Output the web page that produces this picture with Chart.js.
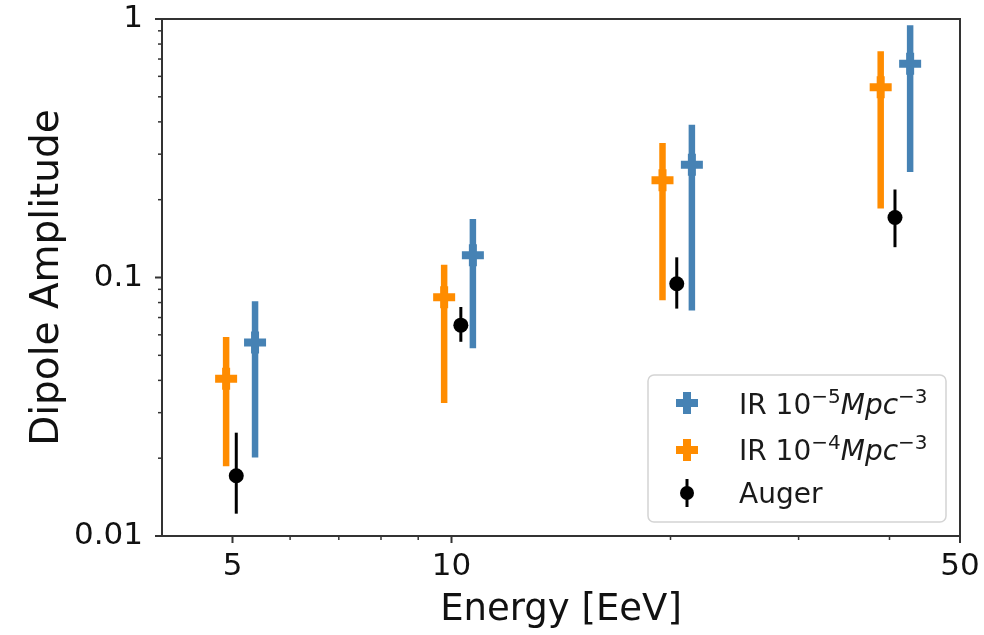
<!DOCTYPE html>
<html>
<head>
<meta charset="utf-8">
<script src="https://cdn.jsdelivr.net/npm/chart.js@4/dist/chart.umd.min.js"></script>
<style>
  html, body { margin: 0; padding: 0; background: #fff; }
  #wrap { width: 984px; height: 635px; position: relative; }
</style>
</head>
<body>
<div id="wrap"><canvas id="chart"></canvas></div>
<script>
// values (log-log axes)
const energyIR5 = [5.37, 10.7, 21.4, 42.7];
const ampIR5 = [0.056, 0.122, 0.273, 0.671];
const lowIR5 = [0.0201, 0.0532, 0.0746, 0.256];
const highIR5 = [0.0809, 0.1685, 0.39, 0.946];

const energyIR4 = [4.9, 9.77, 19.5, 38.9];
const ampIR4 = [0.0406, 0.0839, 0.238, 0.544];
const lowIR4 = [0.0186, 0.0327, 0.0816, 0.185];
const highIR4 = [0.0588, 0.112, 0.331, 0.751];

const energyAuger = [5.06, 10.3, 20.4, 40.7];
const ampAuger = [0.0171, 0.0654, 0.0946, 0.1706];
const lowAuger = [0.0122, 0.0564, 0.0758, 0.131];
const highAuger = [0.0251, 0.0769, 0.1197, 0.219];

const xTicks = [4, 5, 6, 7, 8, 9, 10, 20, 30, 40, 50];
const xLabels = { 5: "5", 10: "10", 50: "50" };
const yTicks = [0.01, 0.02, 0.03, 0.04, 0.05, 0.06, 0.07, 0.08, 0.09,
  0.1, 0.2, 0.3, 0.4, 0.5, 0.6, 0.7, 0.8, 0.9, 1];
const yLabels = { 0.01: "0.01", 0.1: "0.1", 1: "1" };

const BLUE = "#4682b4";
const ORANGE = "#ff8c00";
const FONT = "'DejaVu Sans', sans-serif";
const SPINE = "#333";

function points(xs, ys, lo, hi) {
  return xs.map((x, i) => ({ x, y: ys[i], yMin: lo[i], yMax: hi[i] }));
}

// vertical error bars drawn under the markers
const errorBars = {
  id: "errorBars",
  beforeDatasetsDraw(chart) {
    const { ctx, scales: { x, y } } = chart;
    chart.data.datasets.forEach((ds) => {
      ctx.save();
      ctx.strokeStyle = ds.borderColor;
      ctx.lineWidth = ds.errorWidth;
      ds.data.forEach((p) => {
        const px = x.getPixelForValue(p.x);
        ctx.beginPath();
        ctx.moveTo(px, y.getPixelForValue(p.yMin));
        ctx.lineTo(px, y.getPixelForValue(p.yMax));
        ctx.stroke();
      });
      ctx.restore();
    });
  },
};

// frame + tick marks (major 7px, minor 4px) like matplotlib
const frame = {
  id: "frame",
  afterDraw(chart) {
    const { ctx, chartArea: a, scales: { x, y } } = chart;
    ctx.save();
    ctx.strokeStyle = SPINE;
    ctx.lineCap = "butt";
    x.ticks.forEach((t) => {
      if (t.value <= x.min) return;
      const major = xLabels[t.value] !== undefined;
      const px = x.getPixelForValue(t.value);
      ctx.lineWidth = major ? 2 : 1.5;
      ctx.beginPath();
      ctx.moveTo(px, a.bottom);
      ctx.lineTo(px, a.bottom + (major ? 7 : 4));
      ctx.stroke();
    });
    y.ticks.forEach((t) => {
      const major = yLabels[t.value] !== undefined;
      const py = y.getPixelForValue(t.value);
      ctx.lineWidth = major ? 2 : 1.5;
      ctx.beginPath();
      ctx.moveTo(a.left, py);
      ctx.lineTo(a.left - (major ? 7 : 4), py);
      ctx.stroke();
    });
    ctx.lineWidth = 2;
    ctx.strokeRect(a.left, a.top, a.right - a.left, a.bottom - a.top);
    ctx.restore();
  },
};

function richText(ctx, parts, x, y) {
  parts.forEach((p) => {
    ctx.font = p.font;
    ctx.fillText(p.t, x, y + (p.dy || 0));
    x += ctx.measureText(p.t).width;
  });
}

function irLabel(a, b) {
  return [
    { t: "IR 10", font: `28px ${FONT}` },
    { t: a, font: `20px ${FONT}`, dy: -11 },
    { t: "Mpc", font: `italic 28px ${FONT}` },
    { t: b, font: `20px ${FONT}`, dy: -11 },
  ];
}

const legendBox = {
  id: "legendBox",
  afterDraw(chart) {
    const { ctx } = chart;
    const bx = 648, by = 375, bw = 298, bh = 147;
    ctx.save();
    ctx.beginPath();
    ctx.roundRect(bx, by, bw, bh, 6);
    ctx.fillStyle = "rgba(255,255,255,0.85)";
    ctx.fill();
    ctx.strokeStyle = "#d4d4d4";
    ctx.lineWidth = 1.5;
    ctx.stroke();

    const mx = 687;
    // plus markers
    [[BLUE, 403], [ORANGE, 450]].forEach(([c, cy]) => {
      ctx.strokeStyle = c;
      ctx.lineWidth = 8;
      ctx.beginPath();
      ctx.moveTo(mx - 11, cy); ctx.lineTo(mx + 11, cy);
      ctx.moveTo(mx, cy - 11); ctx.lineTo(mx, cy + 11);
      ctx.stroke();
    });
    // auger marker
    ctx.strokeStyle = "#000";
    ctx.lineWidth = 3;
    ctx.beginPath();
    ctx.moveTo(mx, 479); ctx.lineTo(mx, 507);
    ctx.stroke();
    ctx.fillStyle = "#000";
    ctx.beginPath();
    ctx.arc(mx, 493, 7, 0, Math.PI * 2);
    ctx.fill();

    ctx.fillStyle = "#1a1a1a";
    ctx.textBaseline = "alphabetic";
    ctx.textAlign = "left";
    richText(ctx, irLabel("\u22125", "\u22123"), 739, 414);
    richText(ctx, irLabel("\u22124", "\u22123"), 739, 460);
    richText(ctx, [{ t: "Auger", font: `28px ${FONT}` }], 739, 503);
    ctx.restore();
  },
};

// keep chart area where the reference has it: no extra label padding
function noPad(s) {
  s.paddingTop = 0;
  s.paddingBottom = 0;
  s.paddingLeft = 0;
  s.paddingRight = 0;
}

new Chart(document.getElementById("chart"), {
  type: "scatter",
  data: {
    datasets: [
      {
        label: "IR 10^-5",
        data: points(energyIR5, ampIR5, lowIR5, highIR5),
        borderColor: BLUE,
        backgroundColor: BLUE,
        pointStyle: "cross",
        pointRadius: 11,
        pointBorderWidth: 8,
        errorWidth: 6.5,
      },
      {
        label: "IR 10^-4",
        data: points(energyIR4, ampIR4, lowIR4, highIR4),
        borderColor: ORANGE,
        backgroundColor: ORANGE,
        pointStyle: "cross",
        pointRadius: 11,
        pointBorderWidth: 8,
        errorWidth: 6.5,
      },
      {
        label: "Auger",
        data: points(energyAuger, ampAuger, lowAuger, highAuger),
        borderColor: "#000",
        backgroundColor: "#000",
        pointStyle: "circle",
        pointRadius: 7.5,
        pointBorderWidth: 0,
        errorWidth: 3,
      },
    ],
  },
  options: {
    responsive: true,
    maintainAspectRatio: false,
    animation: false,
    events: [],
    layout: { padding: { top: 18, right: 24, left: 0, bottom: 0 } },
    plugins: { legend: { display: false }, tooltip: { enabled: false } },
    scales: {
      x: {
        type: "logarithmic",
        min: 4,
        max: 50,
        afterBuildTicks: (s) => { s.ticks = xTicks.map((v) => ({ value: v })); },
        afterFit: (s) => { s.height = 99; noPad(s); },
        border: { display: false },
        grid: { drawOnChartArea: false, tickLength: 7, tickColor: "rgba(0,0,0,0)" },
        ticks: {
          autoSkip: false,
          maxRotation: 0,
          padding: 8,
          color: "#111",
          font: { family: FONT, size: 31, lineHeight: 1 },
          callback: (v) => xLabels[v] || "",
        },
        title: {
          display: true,
          text: "Energy [EeV]",
          color: "#111",
          font: { family: FONT, size: 37 },
          padding: { top: 0, bottom: 2 },
        },
      },
      y: {
        type: "logarithmic",
        min: 0.01,
        max: 1,
        afterBuildTicks: (s) => { s.ticks = yTicks.map((v) => ({ value: v })); },
        afterFit: (s) => { s.width = 162; noPad(s); },
        border: { display: false },
        grid: { drawOnChartArea: false, tickLength: 7, tickColor: "rgba(0,0,0,0)" },
        ticks: {
          autoSkip: false,
          padding: 12,
          color: "#111",
          font: { family: FONT, size: 31, lineHeight: 1 },
          callback: (v) => yLabels[v] || "",
        },
        title: {
          display: true,
          text: "Dipole Amplitude",
          color: "#111",
          font: { family: FONT, size: 39 },
          padding: { top: 24, bottom: 0 },
        },
      },
    },
  },
  plugins: [errorBars, frame, legendBox],
});
</script>
</body>
</html>
